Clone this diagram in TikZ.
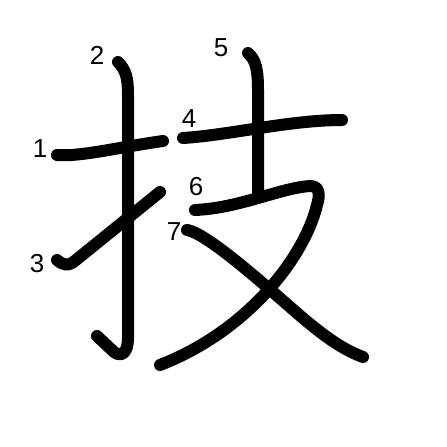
\documentclass[tikz,border=0pt]{standalone}
\usepackage{fontspec}
\setmainfont{Liberation Sans}
\begin{document}
\begin{tikzpicture}[x=1pt,y=-1pt,
  strokeline/.style={line width=12pt,line cap=round,line join=round,black},
  num/.style={inner sep=0pt,font=\fontsize{26}{26}\selectfont}]
\useasboundingbox (0,0) rectangle (447,447);
\fill[white] (0,0) rectangle (447,447);
% stroke 1
\draw[strokeline] (57,155) .. controls (80,157) and (120,147) .. (163,141);
% stroke 2
\draw[strokeline] (118,62) .. controls (126,70) and (128,78) .. (128,95) -- (128,338) .. controls (128,352) and (122,358) .. (114,352) -- (97,336);
% stroke 3
\draw[strokeline] (57,260) .. controls (63,265) and (68,267) .. (76,260) -- (160,192);
% stroke 4
\draw[strokeline] (183,138) .. controls (230,135) and (290,120) .. (342,120);
% stroke 5
\draw[strokeline] (248,53) .. controls (256,60) and (258,70) .. (258,90) -- (258,197);
% stroke 6
\draw[strokeline] (195,210) .. controls (240,208) and (280,188) .. (310,186) .. controls (320,186) and (320,195) .. (317,205) .. controls (305,255) and (250,330) .. (160,365);
% stroke 7
\draw[strokeline] (187,230) .. controls (200,232) and (230,255) .. (267,287) .. controls (300,315) and (330,345) .. (363,357);
% numbers
\node[num] (n1) at (40,149) {1};
\node[num] (n2) at (97,55) {2};
\node[num] (n3) at (37,264) {3};
\node[num] (n4) at (189,119) {4};
\node[num] (n5) at (221,48) {5};
\node[num] (n6) at (196,187) {6};
\node[num] (n7) at (174,232) {7};
\end{tikzpicture}
\end{document}
